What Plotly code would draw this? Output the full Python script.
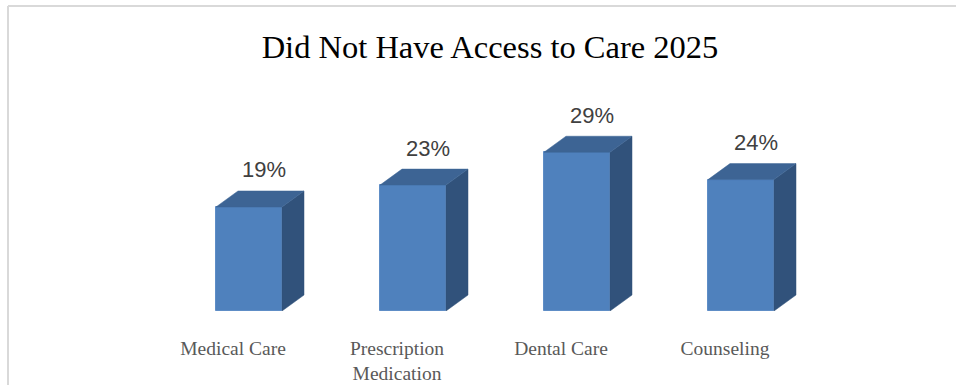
import plotly.graph_objects as go

# Chart data
categories = ["Medical Care", "Prescription<br>Medication", "Dental Care", "Counseling"]
values = [19, 23, 29, 24]
value_labels = ["19%", "23%", "29%", "24%"]

# Figure geometry (pixels)
W, H = 956, 385
ML, MR, MT, MB = 167, 133, 92, 74
plot_w = W - ML - MR
plot_h = H - MT - MB

x_range = [-0.5, 3.5]
y_range = [0, 40]
px_per_x = plot_w / (x_range[1] - x_range[0])
px_per_y = plot_h / (y_range[1] - y_range[0])

bar_w = 66 / px_per_x          # front face width in x units
DX = 22 / px_per_x             # depth offset to the right
DY = 16 / px_per_y             # depth offset upward

FRONT = "#4F81BD"
TOP = "#3D6494"
SIDE = "#31527B"

xs = list(range(len(values)))

fig = go.Figure()

# Side faces
sx, sy = [], []
for i, v in zip(xs, values):
    r = i + bar_w / 2
    sx += [r, r + DX, r + DX, r, r, None]
    sy += [0, DY, v + DY, v, 0, None]
fig.add_trace(go.Scatter(x=sx, y=sy, mode="lines", fill="toself",
                         fillcolor=SIDE, line=dict(color=SIDE, width=0.5),
                         hoverinfo="skip", showlegend=False))

# Top faces
tx, ty = [], []
for i, v in zip(xs, values):
    l, r = i - bar_w / 2, i + bar_w / 2
    tx += [l, r, r + DX, l + DX, l, None]
    ty += [v, v, v + DY, v + DY, v, None]
fig.add_trace(go.Scatter(x=tx, y=ty, mode="lines", fill="toself",
                         fillcolor=TOP, line=dict(color=TOP, width=0.5),
                         hoverinfo="skip", showlegend=False))

# Front faces
fig.add_trace(go.Bar(x=xs, y=values, width=bar_w,
                     marker=dict(color=FRONT, line=dict(color="#5E8DC6", width=1)),
                     showlegend=False, hoverinfo="skip"))

# Value labels above each bar
for i, v, t in zip(xs, values, value_labels):
    fig.add_annotation(x=i + 0.09, y=v + DY, text=t, showarrow=False,
                       yanchor="middle", yshift=21,
                       font=dict(family="Liberation Sans", size=22, color="#404040"))

# Chart frame (left and top edges)
def px_to_paper_x(px):
    return (px - ML) / plot_w

def px_to_paper_y(py):
    return (H - MB - py) / plot_h

frame = dict(color="#D9D9D9", width=2)
fig.add_shape(type="line", xref="paper", yref="paper",
              x0=px_to_paper_x(8), x1=px_to_paper_x(8),
              y0=px_to_paper_y(6), y1=px_to_paper_y(H + 2), line=frame)
fig.add_shape(type="line", xref="paper", yref="paper",
              x0=px_to_paper_x(8), x1=px_to_paper_x(W + 2),
              y0=px_to_paper_y(6), y1=px_to_paper_y(6), line=frame)

fig.update_layout(
    width=W, height=H, autosize=False,
    margin=dict(l=ML, r=MR, t=MT, b=MB, pad=0),
    paper_bgcolor="white", plot_bgcolor="white",
    title=dict(text="Did Not Have Access to Care 2025",
               x=490 / W, xanchor="center", xref="container",
               y=1 - 47 / H, yanchor="middle", yref="container",
               font=dict(family="Liberation Serif", size=32.5, color="#000000")),
    xaxis=dict(range=x_range, tickvals=[i - 16 / px_per_x for i in xs],
               ticktext=categories, showgrid=False, zeroline=False,
               showline=False, ticks="", ticklabelstandoff=23, automargin=False,
               tickfont=dict(family="Liberation Serif", size=19.5, color="#595959")),
    yaxis=dict(range=y_range, visible=False, showgrid=False, zeroline=False,
               automargin=False),
    bargap=0,
)

fig.write_html("out.html")
